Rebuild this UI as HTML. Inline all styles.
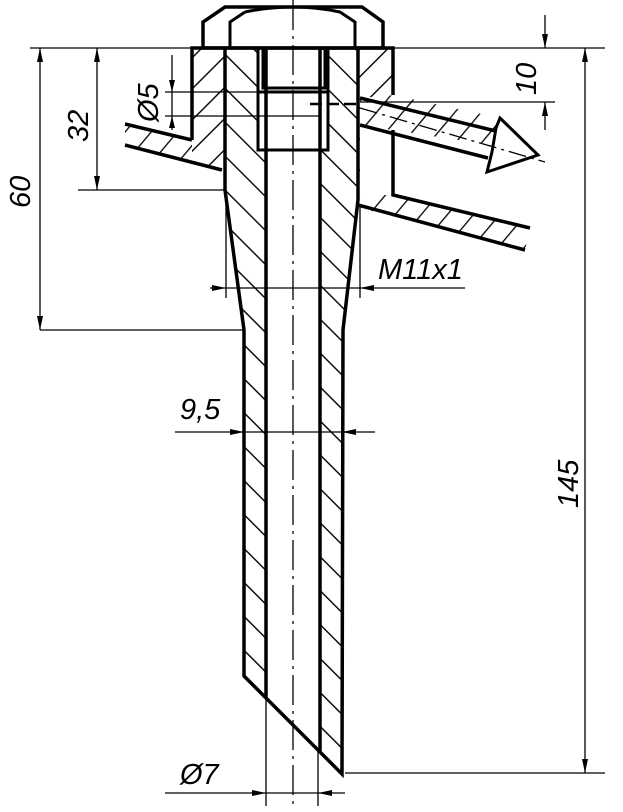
<!DOCTYPE html>
<html><head><style>html,body{margin:0;padding:0;background:#fff}svg{display:block}</style></head><body>
<svg width="623" height="812" viewBox="0 0 623 812" xmlns="http://www.w3.org/2000/svg" font-family="Liberation Sans, sans-serif">
<defs>
<pattern id="hb" patternUnits="userSpaceOnUse" width="24" height="24" patternTransform="rotate(-45)"><line x1="0" y1="0" x2="0" y2="24" stroke="#000" stroke-width="2.8"/></pattern>
<pattern id="hf" patternUnits="userSpaceOnUse" width="22" height="22" patternTransform="rotate(45)"><line x1="0" y1="0" x2="0" y2="22" stroke="#000" stroke-width="2.8"/></pattern>
<pattern id="hp" patternUnits="userSpaceOnUse" width="20" height="20" patternTransform="rotate(40)"><line x1="0" y1="0" x2="0" y2="20" stroke="#000" stroke-width="2.6"/></pattern>
</defs>
<g stroke="#000" fill="none">
<polygon points="225,48 266,48 266,698 244,676 244,330 225,190" fill="url(#hb)" stroke="none"/>
<polygon points="320,48 358,48 358,200 343,330 342,774 320,752" fill="url(#hb)" stroke="none"/>
<polygon points="192,48 225,48 225,190 222,170 192,160" fill="url(#hf)" stroke="none"/>
<polygon points="358,48 393,48 393,95 360,98 360,195 358,200" fill="url(#hf)" stroke="none"/>
<polygon points="125,124 192,140 192,160 222,170 125,145" fill="url(#hp)" stroke="none"/>
<polygon points="360,195 393,195 530,228 525,250 360,208" fill="url(#hp)" stroke="none"/>
<polygon points="360,100 393,95 500,118 510,148 360,125" fill="url(#hp)" stroke="none"/>
<rect x="258" y="50" width="70" height="100" fill="#fff" stroke="none"/>
<path d="M203,48 L203,22 L225,7 L362,7 L383,22 L383,48 Z" fill="#fff" stroke-width="3.5"/>
<path d="M230,48 L230,22 L245,12 M245,12 Q293,2 340,12 L355,22 L355,48 M245,12 L230,22 M340,12 L355,22" stroke-width="3"/>
<path d="M192,140 L192,48 L393,48 L393,95" stroke-width="3.5"/>
<path d="M393,130 L393,195 L530,228" stroke-width="3.5"/>
<path d="M125,124 L192,140 M125,145 L222,170 M358,205 L525,250" stroke-width="3.5"/>
<path d="M360,98 L500,132 M360,125 L488,158" stroke-width="3.5"/>
<path d="M500,118 L538,155 L487,172 L492,152 L496,128 Z" fill="#fff" stroke-width="3"/>
<path d="M360,108 L545,162" stroke-width="1.3" stroke-dasharray="18,5,3,5"/>
<path d="M310,104 L360,104" stroke-width="2.5" stroke-dasharray="12,5"/>
<path d="M258,48 L258,150 L328,150 L328,48" stroke-width="3"/>
<path d="M263,48 L263,88 L325,88 L325,48 M258,92 L328,92" stroke-width="3"/>
<path d="M225,48 L225,190 L244,330 L244,676 L342,774 L343,330 L358,200 L358,48" stroke-width="3.5"/>
<path d="M266,48 L266,698 M320,48 L320,752" stroke-width="3.5"/>
<path d="M226,190 L226,298 M360,205 L360,298" stroke-width="1.3"/>
<path d="M293,0 L293,808" stroke-width="1.3" stroke-dasharray="30,6,3,6"/>
<g stroke-width="1.3">
<path d="M30,48 L192,48 M385,48 L605,48 M360,102 L555,102 M345,773 L605,773"/>
<path d="M40,330 L244,330 M78,190 L225,190"/>
<path d="M40,48 L40,330 M97,48 L97,190 M545,15 L545,48 M545,102 L545,130 M585,48 L585,773"/>
<path d="M172,55 L172,130 M165,92 L258,92 M165,116 L320,116"/>
<path d="M210,288 L465,288 M175,432 L375,432 M165,793 L345,793"/>
<path d="M266,700 L266,806 M318,750 L318,806"/>
</g>
<g fill="#000" stroke="none">
<path d="M40,48 l-3,14 h6 Z M40,330 l-3,-14 h6 Z M97,48 l-3,14 h6 Z M97,190 l-3,-14 h6 Z"/>
<path d="M585,48 l-3,14 h6 Z M585,773 l-3,-14 h6 Z M545,48 l-3,-14 h6 Z M545,102 l-3,14 h6 Z"/>
<path d="M172,92 l-3,-12 h6 Z M172,116 l-3,12 h6 Z"/>
<path d="M226,288 l-14,-3 v6 Z M360,288 l14,-3 v6 Z M244,432 l-14,-3 v6 Z M342,432 l14,-3 v6 Z M266,793 l-14,-3 v6 Z M318,793 l14,-3 v6 Z"/>
</g>
</g>
<g font-size="29" fill="#000" font-style="italic">
<text x="378" y="279">M11x1</text>
<text x="180" y="419">9,5</text>
<text x="180" y="784">Ø7</text>
<text transform="translate(30,208) rotate(-90)">60</text>
<text transform="translate(88,142) rotate(-90)">32</text>
<text transform="translate(158,122) rotate(-90)">Ø5</text>
<text transform="translate(536,95) rotate(-90)">10</text>
<text transform="translate(578,508) rotate(-90)">145</text>
</g>
</svg>
</body></html>
